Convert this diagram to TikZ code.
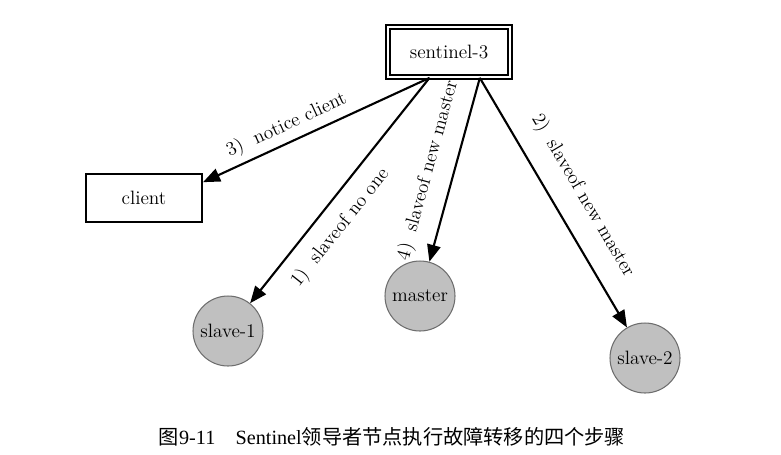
\documentclass[tikz,border=0pt]{standalone}
\usepackage{fontspec}
\newfontfamily\cjk{Noto Sans CJK SC}
\newfontfamily\capfont{Liberation Serif}
\usetikzlibrary{arrows.meta}
\definecolor{nodegray}{RGB}{192,192,192}
\definecolor{rimgray}{RGB}{110,110,110}

\begin{document}
\begin{tikzpicture}[x=0.02cm, y=-0.02cm, font=\fontsize{11}{13}\selectfont,
    server/.style={circle, fill=nodegray, draw=rimgray, line width=0.6pt, minimum size=1.4cm, inner sep=0pt},
    arr/.style={-{Triangle[length=3.4mm,width=2.7mm]}, line width=1.2pt},
    lbl/.style={sloped}]
  \useasboundingbox (0,0) rectangle (781,454);

  % Sentinel leader
  \node[draw, double, line width=1pt, double distance=1.6pt, minimum width=2.44cm, minimum height=1cm] (sentinel) at (449,52) {sentinel-3};

  % Client
  \node[draw, line width=1.2pt, minimum width=2.32cm, minimum height=0.96cm] (client) at (144,198) {client};

  % Redis nodes
  \node[server] (slave1) at (228,331) {slave-1};
  \node[server] (master) at (420,296) {master};
  \node[server] (slave2) at (645,358) {slave-2};

  % Failover steps
  \draw[arr] (sentinel.-127) -- (slave1) node[lbl, pos=0.6, below=4pt] {1)\ \ slaveof no one};
  \draw[arr] (sentinel.-40) -- (slave2) node[lbl, pos=0.53, above=7pt] {2)\ \ slaveof new master};
  \draw[arr] (sentinel.-127) -- (client.15) node[lbl, pos=0.6, above] {3)\ \ notice client};
  \draw[arr] (sentinel.-40) -- (master) node[lbl, pos=0.54, above=5pt] {4)\ \ slaveof new master};

  % Caption
  \node[font=\fontsize{11.5}{13}\selectfont] (caption) at (392,437) {{\cjk 图}{\capfont 9-11\quad Sentinel}{\cjk 领导者节点执行故障转移的四个步骤}};
\end{tikzpicture}
\end{document}
